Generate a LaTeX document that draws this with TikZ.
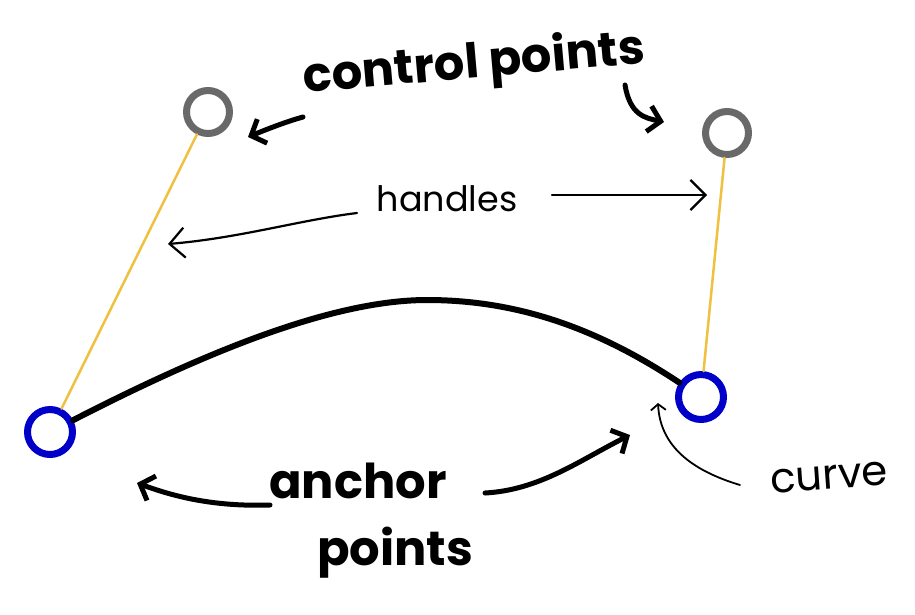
\documentclass[tikz,border=0pt]{standalone}
\usepackage{fontspec}
\setmainfont{Poppins}
\usetikzlibrary{arrows.meta}
\definecolor{anchblue}{RGB}{0,0,200}
\definecolor{ctrlgray}{RGB}{105,105,105}
\definecolor{handyellow}{RGB}{240,192,64}

\begin{document}
\begin{tikzpicture}[line cap=round,line join=round,x=1pt,y=-1pt,
	anchpt/.style={circle,draw=anchblue,fill=white,line width=7pt,minimum size=45pt,inner sep=0pt},
	ctrlpt/.style={circle,draw=ctrlgray,fill=white,line width=7pt,minimum size=43pt,inner sep=0pt},
	handle/.style={draw=handyellow,line width=2.5pt},
	bigarr/.style={line width=5pt,-{Straight Barb[length=12pt,width=26pt]}},
	thinarr/.style={line width=2.2pt,-{Straight Barb[length=15pt,width=30pt]}},
	tinyarr/.style={line width=1.8pt,-{Straight Barb[length=6pt,width=15pt]}},
	bigtxt/.style={font=\fontsize{48}{48}\selectfont\bfseries,inner sep=0pt,anchor=base},
	thintxt/.style={font=\fontsize{35}{35}\selectfont,inner sep=0pt,anchor=base}]
	\useasboundingbox[fill=white] (0,0) rectangle (915,614);
	% points
	\node[anchpt] (anchL) at (50,432) {};
	\node[anchpt] (anchR) at (701,397) {};
	\node[ctrlpt] (ctrlL) at (208,112) {};
	\node[ctrlpt] (ctrlR) at (727,133) {};
	\coordinate (top) at (427,300);
	% handles and curve
	\draw[handle] (anchL) -- (ctrlL);
	\draw[handle] (anchR) -- (ctrlR);
	\draw[line width=6pt] (anchL) .. controls (200,355) and (330,300) .. (top)
		.. controls (520,300) and (600,330) .. (anchR);
	% labels
	\node[bigtxt,rotate=5] (lctrl) at (475,78) {control points};
	\node[thintxt] (lhand) at (447,211) {handles};
	\node[bigtxt] (lanch) at (358,498) {anchor};
	\node[bigtxt] (lpts) at (395,565) {points};
	\node[thintxt,font=\fontsize{42}{42}\selectfont,rotate=4] (lcurve) at (830,489) {curve};
	% arrows
	\coordinate (cL0) at (303,117); \coordinate (cL1) at (248,137);
	\coordinate (cR0) at (625,85);  \coordinate (cR1) at (664,122);
	\coordinate (hL0) at (357,213); \coordinate (hL1) at (168,244);
	\coordinate (hR0) at (552,195); \coordinate (hR1) at (707,195);
	\coordinate (aL0) at (270,505); \coordinate (aL1) at (137,483);
	\coordinate (aR0) at (485,493); \coordinate (aR1) at (630,435);
	\coordinate (cv0) at (740,485); \coordinate (cv1) at (658,403);
	\draw[bigarr] (cL0) .. controls (285,122) and (265,130) .. (cL1);
	\draw[bigarr] (cR0) .. controls (630,115) and (645,118) .. (cR1);
	\draw[thinarr] (hL0) .. controls (300,220) and (240,238) .. (hL1);
	\draw[thinarr] (hR0) -- (hR1);
	\draw[bigarr] (aL0) .. controls (210,507) and (170,495) .. (aL1);
	\draw[bigarr] (aR0) .. controls (540,490) and (580,460) .. (aR1);
	\draw[tinyarr] (cv0) .. controls (690,470) and (660,445) .. (cv1);
\end{tikzpicture}
\end{document}
